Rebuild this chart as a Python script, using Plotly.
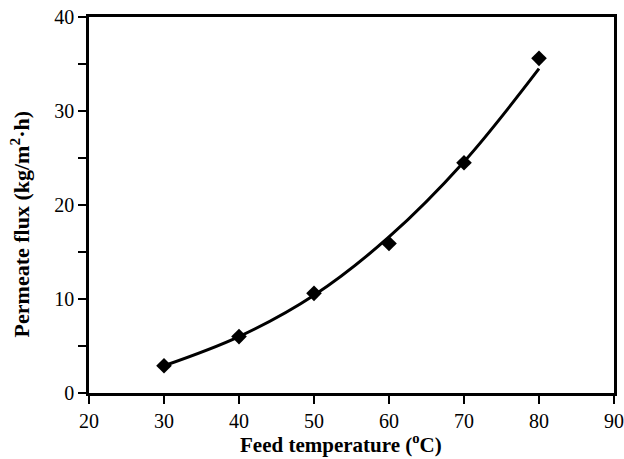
import plotly.graph_objects as go

# Measured data points
temperature = [30, 40, 50, 60, 70, 80]
flux = [2.9, 6.0, 10.6, 15.9, 24.5, 35.6]

# Trend curve
curve_t = [30, 40, 50, 60, 70, 80]
curve_flux = [2.9, 6.0, 10.4, 16.6, 24.6, 34.5]

x_ticks = [20, 30, 40, 50, 60, 70, 80, 90]
y_ticks = [0, 10, 20, 30, 40]

x_title = "<b>Feed temperature (<sup>o</sup>C)</b>"
y_title = "<b>Permeate flux (kg/m<sup>2</sup>·h)</b>"

FONT = "Liberation Serif, Times New Roman, serif"

fig = go.Figure()
fig.add_trace(go.Scatter(
    x=curve_t, y=curve_flux, mode="lines",
    line=dict(color="black", width=3, shape="spline"),
    showlegend=False, hoverinfo="skip"))
fig.add_trace(go.Scatter(
    x=temperature, y=flux, mode="markers",
    marker=dict(symbol="diamond", size=12, color="black"),
    showlegend=False))

fig.update_layout(
    width=624, height=459,
    margin=dict(l=89, r=10, t=17, b=66, autoexpand=False),
    paper_bgcolor="white", plot_bgcolor="white",
    font=dict(family=FONT, color="black", size=20),
)
fig.update_xaxes(
    range=[20, 90], tickvals=x_ticks, ticktext=[str(v) for v in x_ticks],
    ticks="outside", ticklen=8, tickwidth=1.5, tickcolor="black",
    showline=True, linecolor="black", linewidth=2.5, mirror=True,
    showgrid=False, zeroline=False, automargin=False,
    tickfont=dict(family=FONT, size=20),
)
fig.update_yaxes(
    range=[0, 40], tickvals=y_ticks, ticktext=[str(v) for v in y_ticks],
    ticks="outside", ticklen=8, tickwidth=1.5, tickcolor="black",
    minor=dict(dtick=5, tick0=0, ticks="outside", ticklen=8, tickwidth=1.5,
               tickcolor="black", showgrid=False),
    showline=True, linecolor="black", linewidth=2.5, mirror=True,
    showgrid=False, zeroline=False, automargin=False,
    tickfont=dict(family=FONT, size=20),
)

fig.add_annotation(text=x_title, xref="paper", yref="paper",
                   x=0.48, y=-0.133, xanchor="center", yanchor="middle",
                   showarrow=False, font=dict(family=FONT, size=21))
fig.add_annotation(text=y_title, xref="paper", yref="paper",
                   x=-0.131, y=0.449, xanchor="center", yanchor="middle",
                   textangle=-90, showarrow=False,
                   font=dict(family=FONT, size=22))

fig.write_html("out.html")
